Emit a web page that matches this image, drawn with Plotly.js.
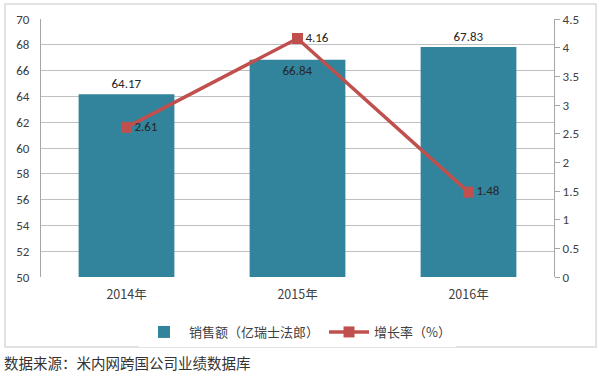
<!DOCTYPE html>
<html><head><meta charset="utf-8">
<script src="https://cdn.plot.ly/plotly-3.0.1.min.js"></script>
<style>html,body{margin:0;padding:0;background:#fff;}#chart{width:604px;height:374px;}</style>
</head><body><div id="chart"></div>
<script>
const categories = ['2014年', '2015年', '2016年'];
const sales = [64.17, 66.84, 67.83];
const growth = [2.61, 4.16, 1.48];
const salesName = '销售额（亿瑞士法郎）';
const growthName = '增长率（%）';
const sourceText = '数据来源：米内网跨国公司业绩数据库';

const font = "Calibri, Carlito, 'Liberation Sans', 'Noto Sans CJK SC', sans-serif";
const cjk = "'Noto Sans CJK SC', sans-serif";

const traces = [
  {
    type: 'bar', x: categories, y: sales, name: salesName,
    marker: {color: '#31849B'}, width: 0.56,
    text: sales.map(v => v.toFixed(2)),
    textposition: ['outside', 'inside', 'outside'],
    insidetextanchor: 'end',
    textfont: {color: '#262626', size: 13, family: font},
    cliponaxis: false, hoverinfo: 'none'
  },
  {
    type: 'scatter', mode: 'lines+markers+text', x: categories, y: growth, yaxis: 'y2',
    name: growthName,
    line: {color: '#C0504D', width: 3.5},
    marker: {color: '#C0504D', symbol: 'square', size: 11},
    text: growth.map(v => v.toFixed(2)),
    textposition: 'middle right',
    textfont: {color: '#262626', size: 13, family: font},
    cliponaxis: false, hoverinfo: 'none'
  }
];

const layout = {
  width: 604, height: 374,
  margin: {l: 41, r: 50, t: 19, b: 97},
  paper_bgcolor: '#fff', plot_bgcolor: '#fff',
  showlegend: true,
  bargap: 0.44,
  font: {family: font, size: 13, color: '#404040'},
  xaxis: {
    showgrid: false, zeroline: false, showline: false, ticks: '',
    tickfont: {family: cjk, size: 12.5, color: '#404040'},
    ticklabelstandoff: 8
  },
  yaxis: {
    range: [50, 70], dtick: 2, showgrid: true, gridcolor: '#BFBFBF', gridwidth: 1,
    zeroline: false, showline: true, linecolor: '#A6A6A6', linewidth: 1,
    ticks: '', tickfont: {size: 13, color: '#404040'}, ticklabelstandoff: 8
  },
  yaxis2: {
    range: [0, 4.5], dtick: 0.5, overlaying: 'y', side: 'right',
    showgrid: false, zeroline: false, showline: true, linecolor: '#A6A6A6', linewidth: 1,
    ticks: 'outside', ticklen: 5, tickcolor: '#A6A6A6',
    tickfont: {size: 13, color: '#404040'}
  },
  legend: {
    orientation: 'h', x: 0.5, xanchor: 'center', y: -0.155, yanchor: 'top',
    font: {family: cjk, size: 13, color: '#404040'}, traceorder: 'normal',
    itemwidth: 40
  },
  shapes: [
    {type: 'rect', xref: 'paper', yref: 'paper', x0: -0.0702, x1: 1.082, y0: -0.271, y1: 1.058,
     line: {color: '#D9D9D9', width: 1.5}, fillcolor: 'rgba(0,0,0,0)', layer: 'below'}
  ],
  annotations: [
    {xref: 'paper', yref: 'paper', x: -0.076, y: -0.333, xanchor: 'left', yanchor: 'middle',
     text: sourceText, showarrow: false, font: {family: cjk, size: 14.5, color: '#333'}}
  ]
};

Plotly.newPlot('chart', traces, layout, {displayModeBar: false, staticPlot: true});
</script></body></html>
